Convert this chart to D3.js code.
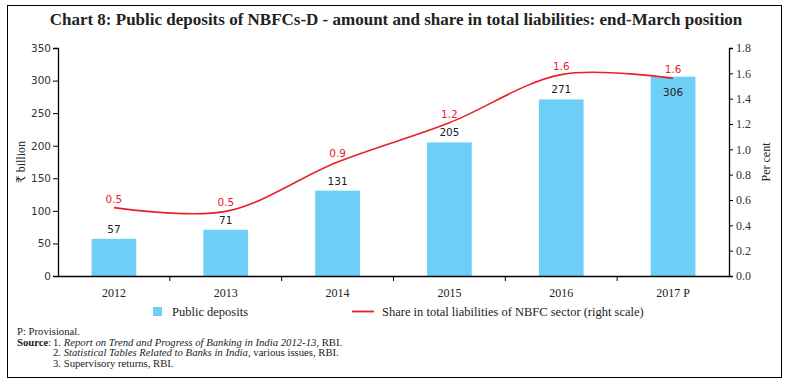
<!DOCTYPE html>
<html>
<head>
<meta charset="utf-8">
<script src="https://cdn.jsdelivr.net/npm/d3@7"></script>
<style>
  body { margin: 0; background: #fff; }
  svg text { fill: #222; }
</style>
</head>
<body>
<svg id="chart" width="791" height="384"></svg>
<script>
// data
var years = ["2012", "2013", "2014", "2015", "2016", "2017 P"];
var deposits = [57, 71, 131, 205, 271, 306];
var share = [0.54, 0.51, 0.90, 1.21, 1.59, 1.56];
var shareLabels = ["0.5", "0.5", "0.9", "1.2", "1.6", "1.6"];
var leftTicks = [0, 50, 100, 150, 200, 250, 300, 350];
var rightTicks = [0, 0.2, 0.4, 0.6, 0.8, 1.0, 1.2, 1.4, 1.6, 1.8];

var barColor = "#6dcff6";
var lineColor = "#e8202a";
var serif = "'Liberation Serif', 'DejaVu Serif', serif";
var sans = "'DejaVu Sans', Verdana, sans-serif";

var svg = d3.select("#chart");

// outer frame
svg.append("rect")
    .attr("x", 7.5).attr("y", 5.5)
    .attr("width", 774).attr("height", 372)
    .attr("fill", "none")
    .attr("stroke", "#000")
    .attr("stroke-width", 1);

// title
svg.append("text")
    .attr("x", 396).attr("y", 25)
    .attr("text-anchor", "middle")
    .style("font-family", serif)
    .style("font-weight", "bold")
    .style("font-size", "17px")
    .text("Chart 8: Public deposits of NBFCs-D - amount and share in total liabilities: end-March position");

// plot area
var plotLeft = 58, plotRight = 729, plotTop = 48, plotBottom = 276;

var x = d3.scaleBand().domain(years).range([plotLeft, plotRight]).paddingInner(0.6).paddingOuter(0.3);
var xb = d3.scaleBand().domain(years).range([plotLeft, plotRight]); // full-width bands for line + ticks
var y = d3.scaleLinear().domain([0, 350]).range([plotBottom, plotTop]);
var y2 = d3.scaleLinear().domain([0, 1.8]).range([plotBottom, plotTop]);

// bars
svg.append("g").selectAll("rect")
    .data(deposits)
    .enter().append("rect")
    .attr("x", function (d, i) { return x(years[i]); })
    .attr("y", function (d) { return y(d); })
    .attr("width", x.bandwidth())
    .attr("height", function (d) { return plotBottom - y(d); })
    .attr("fill", barColor);

// bar labels (last one sits inside the bar, below the line label)
svg.append("g").selectAll("text")
    .data(deposits)
    .enter().append("text")
    .attr("x", function (d, i) { return x(years[i]) + x.bandwidth() / 2; })
    .attr("y", function (d, i) { return i == deposits.length - 1 ? y(d) + 19 : y(d) - 6; })
    .attr("text-anchor", "middle")
    .style("font-family", sans)
    .style("font-size", "10.5px")
    .text(function (d) { return d; });

// share line
var line = d3.line()
    .x(function (d, i) { return xb(years[i]) + xb.bandwidth() / 2; })
    .y(function (d) { return y2(d); })
    .curve(d3.curveCatmullRom.alpha(0.5));

svg.append("path")
    .datum(share)
    .attr("d", line)
    .attr("fill", "none")
    .attr("stroke", lineColor)
    .attr("stroke-width", 1.6);

svg.append("g").selectAll("text")
    .data(share)
    .enter().append("text")
    .attr("x", function (d, i) { return xb(years[i]) + xb.bandwidth() / 2; })
    .attr("y", function (d) { return y2(d) - 5; })
    .attr("text-anchor", "middle")
    .style("font-family", sans)
    .style("font-size", "10.5px")
    .style("fill", lineColor)
    .text(function (d, i) { return shareLabels[i]; });

// axes
var leftAxis = svg.append("g")
    .attr("transform", "translate(" + plotLeft + ",0)")
    .call(d3.axisLeft(y).tickValues(leftTicks).tickSize(5).tickPadding(2));
leftAxis.selectAll("text").style("font-family", sans).style("font-size", "10.5px").style("fill", "#333");

var rightAxis = svg.append("g")
    .attr("transform", "translate(" + plotRight + ",0)")
    .call(d3.axisRight(y2).tickValues(rightTicks).tickSize(4).tickPadding(3).tickFormat(d3.format(".1f")));
rightAxis.selectAll("text").style("font-family", serif).style("font-size", "12px").style("fill", "#333");

var bottomAxis = svg.append("g")
    .attr("transform", "translate(0," + plotBottom + ")")
    .call(d3.axisBottom(xb).tickSize(0).tickPadding(12));
bottomAxis.selectAll("text").style("font-family", serif).style("font-size", "12px").style("fill", "#222");
// tick marks between categories
bottomAxis.selectAll(".sep")
    .data(years.slice(1))
    .enter().append("line")
    .attr("x1", function (d) { return xb(d); })
    .attr("x2", function (d) { return xb(d); })
    .attr("y1", 0).attr("y2", 5)
    .attr("stroke", "#000");

svg.selectAll(".domain").attr("stroke", "#000").attr("stroke-width", 1.3);
svg.selectAll(".tick line").attr("stroke", "#000");

// axis titles
svg.append("text")
    .attr("transform", "translate(25," + ((plotTop + plotBottom) / 2) + ") rotate(-90)")
    .attr("text-anchor", "middle")
    .style("font-family", serif)
    .style("font-size", "12px")
    .text("₹ billion");

svg.append("text")
    .attr("transform", "translate(770," + ((plotTop + plotBottom) / 2) + ") rotate(-90)")
    .attr("text-anchor", "middle")
    .style("font-family", serif)
    .style("font-size", "12px")
    .text("Per cent");

// legend
var legend = svg.append("g");
legend.append("rect")
    .attr("x", 153).attr("y", 307)
    .attr("width", 9).attr("height", 9)
    .attr("fill", barColor);
legend.append("text")
    .attr("x", 172).attr("y", 315.5)
    .style("font-family", serif)
    .style("font-size", "12.5px")
    .text("Public deposits");
legend.append("line")
    .attr("x1", 352).attr("x2", 374)
    .attr("y1", 311.5).attr("y2", 311.5)
    .attr("stroke", lineColor)
    .attr("stroke-width", 1.8);
legend.append("text")
    .attr("x", 382).attr("y", 315.5)
    .style("font-family", serif)
    .style("font-size", "12.5px")
    .text("Share in total liabilities of NBFC sector (right scale)");

// notes
var notes = svg.append("g")
    .style("font-family", serif)
    .style("font-size", "10.7px");
notes.append("text").attr("x", 17).attr("y", 335).text("P: Provisional.");

var s1 = notes.append("text").attr("x", 17).attr("y", 345.5);
s1.append("tspan").style("font-weight", "bold").text("Source");
s1.append("tspan").text(":");
s1.append("tspan").attr("x", 53).text("1. ");
s1.append("tspan").style("font-style", "italic").text("Report on Trend and Progress of Banking in India 2012-13");
s1.append("tspan").text(", RBI.");

var s2 = notes.append("text").attr("x", 53).attr("y", 356);
s2.append("tspan").text("2. ");
s2.append("tspan").style("font-style", "italic").text("Statistical Tables Related to Banks in India");
s2.append("tspan").text(", various issues, RBI.");

notes.append("text").attr("x", 53).attr("y", 366.5).text("3. Supervisory returns, RBI.");
</script>
</body>
</html>
